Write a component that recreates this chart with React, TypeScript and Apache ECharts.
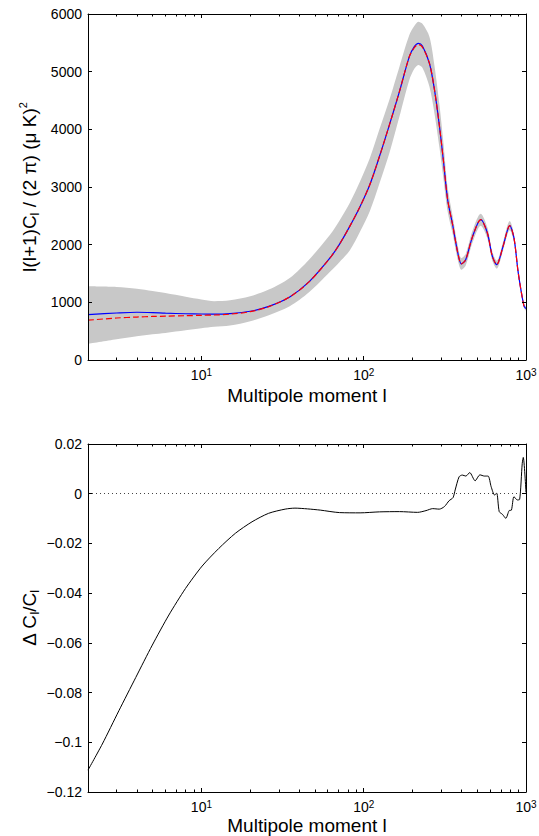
import React, { useEffect, useRef } from 'react';
import * as echarts from 'echarts';

const FONT = '"Liberation Sans", Arial, Helvetica, sans-serif';

// Multipole moments for the power spectrum panel
const ells = [2, 3, 4, 5, 6, 8, 10, 12, 15, 20, 26, 35, 46, 62, 71, 82, 95, 109, 125, 144, 166, 191, 205, 217, 230, 254, 273, 293, 310, 329, 353, 380, 400, 425, 469, 526, 578, 620, 660, 722, 794, 843, 896, 970, 1000];
// Blue solid model
const modelBlue = [788, 815, 828, 822, 812, 802, 798, 796, 805, 845, 930, 1094, 1354, 1770, 2010, 2317, 2663, 3039, 3529, 4078, 4655, 5261, 5434, 5492, 5446, 5146, 4684, 4050, 3450, 2779, 2346, 1857, 1666, 1740, 2144, 2433, 2203, 1800, 1654, 1971, 2329, 2116, 1510, 944, 890];
// Red dashed model
const modelRed = [690, 728, 745, 755, 760, 768, 775, 780, 795, 838, 925, 1094, 1354, 1770, 2010, 2317, 2663, 3039, 3529, 4078, 4655, 5261, 5415, 5470, 5425, 5146, 4684, 4050, 3450, 2779, 2346, 1857, 1666, 1740, 2144, 2433, 2203, 1800, 1654, 1971, 2329, 2116, 1510, 944, 890];
// Grey band (upper / lower edges)
const bandUpper = [1280, 1268, 1235, 1195, 1160, 1095, 1048, 1020, 1036, 1105, 1221, 1423, 1740, 2170, 2420, 2722, 3100, 3500, 4000, 4511, 5087, 5636, 5790, 5867, 5830, 5607, 5100, 4420, 3760, 2990, 2500, 1980, 1766, 1840, 2250, 2538, 2300, 1880, 1724, 2046, 2409, 2186, 1565, 984, 925];
const bandLower = [280, 360, 410, 445, 470, 515, 550, 575, 597, 672, 776, 932, 1174, 1530, 1700, 1900, 2230, 2580, 3060, 3588, 4221, 4857, 5050, 5117, 5070, 4741, 4270, 3680, 3140, 2570, 2190, 1735, 1566, 1640, 2040, 2328, 2106, 1720, 1584, 1896, 2249, 2046, 1455, 904, 855];

// Relative difference panel
const deltaEll = [2, 2.45, 3.1, 3.94, 4.98, 6.3, 7.98, 10.1, 12.8, 16.2, 20.5, 25.9, 32.8, 37.7, 45, 54, 71, 95, 125, 166, 215, 242, 266, 292, 314, 336, 355, 366, 387, 405, 426, 450, 486, 520, 554, 584, 610, 640, 660, 684, 716, 751, 787, 813, 843, 884, 914, 948, 962, 1000];
const deltaVals = [-0.1112, -0.1007, -0.0873, -0.0739, -0.0609, -0.0488, -0.0381, -0.0291, -0.022, -0.0159, -0.0113, -0.0079, -0.0062, -0.0058, -0.0061, -0.0066, -0.0076, -0.0077, -0.0073, -0.0072, -0.0075, -0.0068, -0.006, -0.0062, -0.0052, -0.0028, -0.0016, 0.0015, 0.0068, 0.0075, 0.0071, 0.0085, 0.0052, 0.0076, 0.0071, 0.0071, 0.0028, -0.0005, 0.0002, -0.0072, -0.0083, -0.0099, -0.0068, -0.0066, -0.0012, -0.0025, -0.0023, 0.0122, 0.0146, 0.0005];

const majorX = [10, 100, 1000];
const minorX = [2, 3, 4, 5, 6, 7, 8, 9, 20, 30, 40, 50, 60, 70, 80, 90, 200, 300, 400, 500, 600, 700, 800, 900];

const black = '#000';

function makeXAxes(gridIndex: number, nameGap: number) {
  const base: any = {
    type: 'log', logBase: 10, min: 2, max: 1000, gridIndex, z: 10,
    splitLine: { show: false }, minorTick: { show: false }, minorSplitLine: { show: false },
  };
  const line = { show: true, onZero: false, lineStyle: { color: black, width: 1 } };
  const noLine = { show: false, onZero: false };
  return [
    {
      ...base, position: 'bottom', axisLine: line,
      axisTick: { show: true, inside: true, length: 4, customValues: majorX, lineStyle: { color: black, width: 1 } },
      axisLabel: {
        show: true, customValues: majorX, margin: 7,
        formatter: (v: number) => `{b|10}{s|${Math.round(Math.log10(v))}}`,
        rich: {
          b: { fontSize: 14, fontFamily: FONT, color: black, lineHeight: 16 },
          s: { fontSize: 10, fontFamily: FONT, color: black, lineHeight: 6, verticalAlign: 'top' },
        },
      },
      name: 'Multipole moment l', nameLocation: 'middle', nameGap, nameMoveOverlap: false,
      nameTextStyle: { fontSize: 19, fontFamily: FONT, color: black, lineHeight: 16 },
    },
    {
      ...base, position: 'bottom', axisLine: noLine,
      axisTick: { show: true, inside: true, length: 2.5, customValues: minorX, lineStyle: { color: black, width: 1 } },
      axisLabel: { show: false },
    },
    {
      ...base, position: 'top', axisLine: line,
      axisTick: { show: true, inside: true, length: 4, customValues: majorX, lineStyle: { color: black, width: 1 } },
      axisLabel: { show: false },
    },
    {
      ...base, position: 'top', axisLine: noLine,
      axisTick: { show: true, inside: true, length: 2.5, customValues: minorX, lineStyle: { color: black, width: 1 } },
      axisLabel: { show: false },
    },
  ];
}

function makeYAxes(gridIndex: number, min: number, max: number, interval: number, name: string, rich: any, fmt: (v: number) => string) {
  const common: any = {
    type: 'value', gridIndex, min, max, interval, z: 10,
    splitLine: { show: false },
    axisTick: { show: true, inside: true, length: 4, lineStyle: { color: black, width: 1 } },
  };
  return [
    {
      ...common, position: 'left',
      axisLine: { show: true, onZero: false, lineStyle: { color: black, width: 1 } },
      axisLabel: { show: true, margin: 6, fontSize: 14, fontFamily: FONT, color: black, formatter: fmt },
      name, nameLocation: 'middle', nameRotate: 90, nameGap: 47, nameMoveOverlap: false,
      nameTextStyle: { fontSize: 19, fontFamily: FONT, color: black, lineHeight: 24, rich },
    },
    {
      ...common, position: 'right',
      axisLine: { show: true, onZero: false, lineStyle: { color: black, width: 1 } },
      axisLabel: { show: false },
    },
  ];
}

const titleRich = {
  sub: { fontSize: 13, fontFamily: FONT, color: black, lineHeight: 12, verticalAlign: 'bottom' },
  sup: { fontSize: 11, fontFamily: FONT, color: black, lineHeight: 10, verticalAlign: 'top' },
};

export default function App() {
  const ref = useRef<HTMLDivElement>(null);
  useEffect(() => {
    document.body.style.margin = '0';
    if (!ref.current) return;
    const chart = echarts.init(ref.current, undefined, { renderer: 'svg' });
    const pairs = (xs: number[], ys: number[]) => xs.map((x, i) => [x, ys[i]]);
    const topFmt = (v: number) => String(Math.round(v));
    const deltaFmt = (v: number) => (Math.abs(v) < 1e-9 ? '0' : String(Number(v.toFixed(2))).replace('-', '\u2212'));
    chart.setOption({
      animation: false,
      backgroundColor: '#fff',
      grid: [
        { left: 88, top: 14, width: 438, height: 346, containLabel: false, outerBoundsMode: 'none' },
        { left: 88, top: 444, width: 438, height: 348, containLabel: false, outerBoundsMode: 'none' },
      ],
      xAxis: [...makeXAxes(0, 27), ...makeXAxes(1, 25)],
      yAxis: [
        ...makeYAxes(0, 0, 6000, 1000, 'l(l+1)C{sub|l} / (2 \u03c0) (\u03bc K){sup|2}', titleRich, topFmt),
        ...makeYAxes(1, -0.12, 0.02, 0.02, '\u0394 C{sub|l}/C{sub|l}', titleRich, deltaFmt),
      ],
      series: [
        {
          type: 'line', xAxisIndex: 0, yAxisIndex: 0, data: pairs(ells, bandUpper),
          symbol: 'none', smooth: 0.3, lineStyle: { width: 0, opacity: 0 },
          areaStyle: { color: '#c8c8c8', opacity: 1, origin: 'start' }, silent: true,
        },
        {
          type: 'line', xAxisIndex: 0, yAxisIndex: 0, data: pairs(ells, bandLower),
          symbol: 'none', smooth: 0.3, lineStyle: { width: 0, opacity: 0 },
          areaStyle: { color: '#ffffff', opacity: 1, origin: 'start' }, silent: true,
        },
        {
          type: 'line', xAxisIndex: 0, yAxisIndex: 0, data: pairs(ells, modelBlue),
          symbol: 'none', smooth: 0.3, lineStyle: { color: '#0000ff', width: 1.2 },
        },
        {
          type: 'line', xAxisIndex: 0, yAxisIndex: 0, data: pairs(ells, modelRed),
          symbol: 'none', smooth: 0.3, lineStyle: { color: '#ff0000', width: 1.2, type: [6, 3] },
        },
        {
          type: 'line', xAxisIndex: 4, yAxisIndex: 2, data: pairs(deltaEll, deltaVals),
          symbol: 'none', smooth: 0.25, lineStyle: { color: black, width: 1 },
          markLine: {
            silent: true, symbol: 'none', label: { show: false },
            lineStyle: { color: '#444', width: 1, type: [1, 3] },
            data: [{ yAxis: 0 }],
          },
        },
      ],
    });
    return () => chart.dispose();
  }, []);
  return <div ref={ref} style={{ width: 539, height: 836 }} />;
}
